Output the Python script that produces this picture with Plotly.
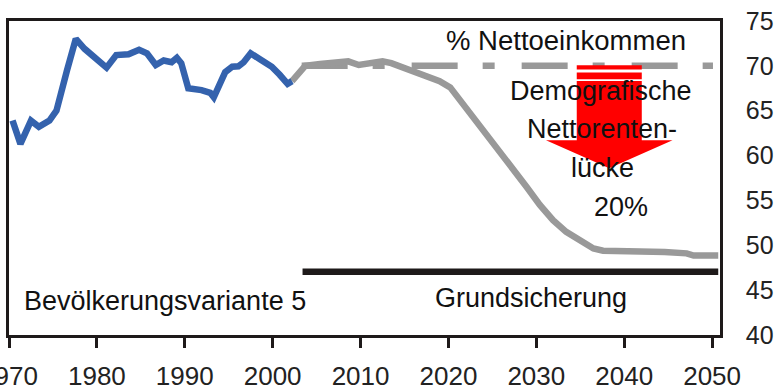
import plotly.graph_objects as go

# Historical net replacement rate (% of net income)
hist_years = [1970.4, 1971.3, 1972.5, 1973.4, 1974.6, 1975.4, 1976.6, 1977.6, 1978.6, 1979.6,
              1981.1, 1982.2, 1983.6, 1984.8, 1985.7, 1986.7, 1987.6, 1988.5, 1989.1, 1989.6,
              1990.4, 1991.9, 1992.9, 1993.3, 1993.8, 1994.6, 1995.4, 1996.1, 1996.7, 1997.5,
              1998.6, 1999.9, 2000.8, 2001.7, 2002.2]
hist_values = [63.9, 61.3, 63.9, 63.2, 63.9, 65.0, 69.5, 73.0, 71.9, 71.1,
               69.8, 71.2, 71.3, 71.8, 71.4, 70.1, 70.6, 70.4, 70.9, 70.3,
               67.5, 67.3, 67.0, 66.5, 67.6, 69.3, 69.9, 69.95, 70.4, 71.4,
               70.7, 69.9, 69.0, 68.0, 68.3]

# Projection, population variant 5
proj_years = [2002.2, 2003.7, 2005.4, 2007.5, 2008.6, 2009.8, 2011.5, 2012.5, 2013.5, 2014.5,
              2016.0, 2017.5, 2019.0, 2020.2, 2021.3, 2022.8, 2024.3, 2025.9, 2027.4, 2028.9,
              2030.4, 2031.9, 2033.4, 2035.0, 2036.5, 2037.6, 2044.1, 2044.6, 2047.1, 2047.9,
              2050.7]
proj_values = [68.3, 70.0, 70.2, 70.3, 70.5, 70.1, 70.3, 70.5, 70.3, 69.95,
               69.3, 68.8, 68.3, 67.6, 66.2, 64.5, 62.6, 60.6, 58.6, 56.5,
               54.5, 52.8, 51.5, 50.5, 49.65, 49.4, 49.4, 49.25, 49.1, 48.85,
               48.85]

# Target level and basic income support level
target_years = [2003.3, 2050.1]
target_values = [70, 70]
basic_years = [2003.4, 2050.7]
basic_values = [47.05, 47.05]

x_ticks = [1970, 1980, 1990, 2000, 2010, 2020, 2030, 2040, 2050]
y_ticks = [40, 45, 50, 55, 60, 65, 70, 75]

# Downward arrow (years / percent)
arrow_left, arrow_right = 2034.6, 2042.0
arrow_head_left, arrow_head_right, arrow_mid = 2031.1, 2045.5, 2038.3
bar1 = (70.07, 69.6)
bar2 = (69.25, 68.5)
shaft_top, head_base, head_tip = 68.3, 61.7, 58.6

BLUE = "#3462ad"
GRAY = "#999999"
DARK = "#1e1a1a"
FONT = "Liberation Sans, Arial, sans-serif"

fig = go.Figure()
fig.add_trace(go.Scatter(x=target_years, y=target_values, mode="lines",
                         line=dict(color=GRAY, width=6.5, dash="46px,25px,12px,27px")))
fig.add_trace(go.Scatter(x=proj_years, y=proj_values, mode="lines",
                         line=dict(color=GRAY, width=6.5)))
fig.add_trace(go.Scatter(x=hist_years, y=hist_values, mode="lines",
                         line=dict(color=BLUE, width=6.5)))
fig.add_trace(go.Scatter(x=basic_years, y=basic_values, mode="lines",
                         line=dict(color=DARK, width=6.5)))

def rect(x0, x1, y0, y1):
    return dict(type="rect", xref="x", yref="y", x0=x0, x1=x1, y0=y0, y1=y1,
                fillcolor="#ff0000", line=dict(width=0), layer="above")

shapes = [
    rect(arrow_left, arrow_right, bar1[1], bar1[0]),
    rect(arrow_left, arrow_right, bar2[1], bar2[0]),
    dict(type="path", xref="x", yref="y", layer="above",
         path=(f"M {arrow_left},{shaft_top} L {arrow_right},{shaft_top} "
               f"L {arrow_right},{head_base} L {arrow_head_right},{head_base} "
               f"L {arrow_mid},{head_tip} L {arrow_head_left},{head_base} "
               f"L {arrow_left},{head_base} Z"),
         fillcolor="#ff0000", line=dict(width=0)),
]

def label(text, x, y, size=27):
    return dict(text=text, x=x, y=y, xref="x", yref="y", showarrow=False,
                xanchor="center", yanchor="middle",
                font=dict(family=FONT, size=size, color="#111111"))

annotations = [
    label("% Nettoeinkommen", 2033.4, 72.85, size=27.5),
    label("Demografische", 2037.4, 67.25),
    label("Nettorenten-", 2037.5, 62.95),
    label("lücke", 2037.5, 58.6),
    label("20%", 2039.6, 54.25),
    label("Bevölkerungsvariante 5", 1987.7, 43.8),
    label("Grundsicherung", 2029.4, 44.1),
]

fig.update_layout(
    width=774, height=390,
    margin=dict(l=9, r=54, t=21, b=55, autoexpand=False),
    paper_bgcolor="white", plot_bgcolor="white",
    showlegend=False,
    shapes=shapes,
    annotations=annotations,
    font=dict(family=FONT, color="#222222"),
    xaxis=dict(range=[1970, 2050.9], tickvals=x_ticks, ticktext=[str(v) for v in x_ticks],
               showgrid=False, zeroline=False, showline=True, linecolor=DARK,
               linewidth=2.5, mirror=True, ticks="outside", ticklen=10, tickwidth=2.5,
               tickcolor=DARK, tickfont=dict(family=FONT, size=26, color="#222222"),
               ticklabelstandoff=6, automargin=False, ticklabeloverflow="allow"),
    yaxis=dict(range=[40, 75], tickvals=y_ticks, side="right",
               showgrid=False, zeroline=False, showline=True, linecolor=DARK,
               linewidth=2.5, mirror=True, ticks="",
               tickfont=dict(family=FONT, size=25, color="#222222"),
               ticklabelstandoff=18, automargin=False, ticklabeloverflow="allow"),
)

fig.write_html("out.html")
